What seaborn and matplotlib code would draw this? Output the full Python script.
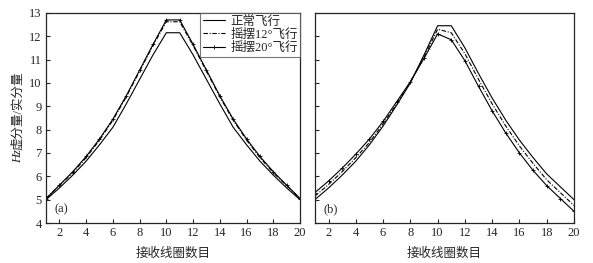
import seaborn as sns
import matplotlib.pyplot as plt
import pandas as pd
import numpy as np

coils = list(range(1, 21))
labels = ['正常飞行', '摇摆12°飞行', '摇摆20°飞行']

a_normal = [5.0, 5.5, 6.05, 6.65, 7.35, 8.1, 9.1, 10.15, 11.2, 12.15,
            12.15, 11.2, 10.15, 9.1, 8.1, 7.35, 6.65, 6.05, 5.5, 5.0]
a_12 = [5.05, 5.6, 6.15, 6.8, 7.55, 8.4, 9.4, 10.5, 11.6, 12.62,
        12.62, 11.6, 10.5, 9.4, 8.4, 7.55, 6.8, 6.15, 5.6, 5.05]
a_20 = [5.05, 5.62, 6.2, 6.85, 7.6, 8.45, 9.45, 10.55, 11.65, 12.7,
        12.7, 11.65, 10.55, 9.45, 8.45, 7.6, 6.85, 6.2, 5.62, 5.05]

b_normal = [5.0, 5.5, 6.05, 6.65, 7.35, 8.15, 9.05, 10.0, 11.2, 12.45,
            12.45, 11.5, 10.4, 9.35, 8.4, 7.55, 6.8, 6.1, 5.55, 5.0]
b_12 = [5.15, 5.65, 6.2, 6.8, 7.45, 8.25, 9.1, 10.05, 11.1, 12.3,
        12.15, 11.25, 10.15, 9.1, 8.15, 7.3, 6.55, 5.85, 5.3, 4.75]
b_20 = [5.3, 5.8, 6.35, 6.95, 7.6, 8.35, 9.2, 10.05, 11.05, 12.1,
        11.85, 10.95, 9.85, 8.8, 7.85, 7.0, 6.25, 5.6, 5.05, 4.5]

sns.set_style("ticks")
plt.rcParams['font.family'] = ['Liberation Serif', 'Noto Sans CJK SC']

fig = plt.figure(figsize=(5.93, 2.63), dpi=100)
ax1 = fig.add_axes([0.0776, 0.152, 0.4284, 0.799])
ax2 = fig.add_axes([0.531, 0.152, 0.437, 0.799])

styles = [dict(linestyle='-'),
          dict(linestyle=(0, (4, 1.5, 1, 1.5))),
          dict(linestyle='-', marker='+', markersize=3, markeredgewidth=0.6,
               markeredgecolor='black')]

for ax, series, tag in [(ax1, [a_normal, a_12, a_20], '(a)'),
                        (ax2, [b_normal, b_12, b_20], '(b)')]:
    for vals, st in zip(series, styles):
        df = pd.DataFrame({'coil': coils, 'val': vals})
        sns.lineplot(data=df, x='coil', y='val', ax=ax, color='black',
                     linewidth=0.8, **st)
    ax.set_xlim(1, 20)
    ax.set_ylim(4, 13)
    ax.set_xticks(np.arange(2, 21, 2))
    ax.set_yticks(np.arange(4, 14, 1))
    ax.tick_params(direction='in', length=3, width=0.8, labelsize=9, pad=3)
    for sp in ax.spines.values():
        sp.set_linewidth(0.9)
    ax.set_xlabel('接收线圈数目', fontsize=9, labelpad=6)
    ax.set_ylabel('')
    ax.text(0.035, 0.05, tag, transform=ax.transAxes, fontsize=9)

# y label: italic "Hz" followed by CJK text
fig.text(18 / 593, 1 - 156 / 263, 'Hz', rotation=90, ha='center',
         va='center', fontsize=9, style='italic')
fig.text(18 / 593, 1 - 150 / 263, '虚分量/实分量', rotation=90, ha='center',
         va='bottom', fontsize=9)

ax2.set_yticklabels([])
leg = ax1.legend(handles=ax1.lines[:3], labels=labels, loc='upper right',
                 fontsize=9, frameon=True, fancybox=False,
                 borderaxespad=0, handlelength=1.8, handletextpad=0.4,
                 borderpad=0.2, labelspacing=0.1, edgecolor='#555555')
leg.get_frame().set_linewidth(0.8)

fig.savefig('out.png', dpi=100)
